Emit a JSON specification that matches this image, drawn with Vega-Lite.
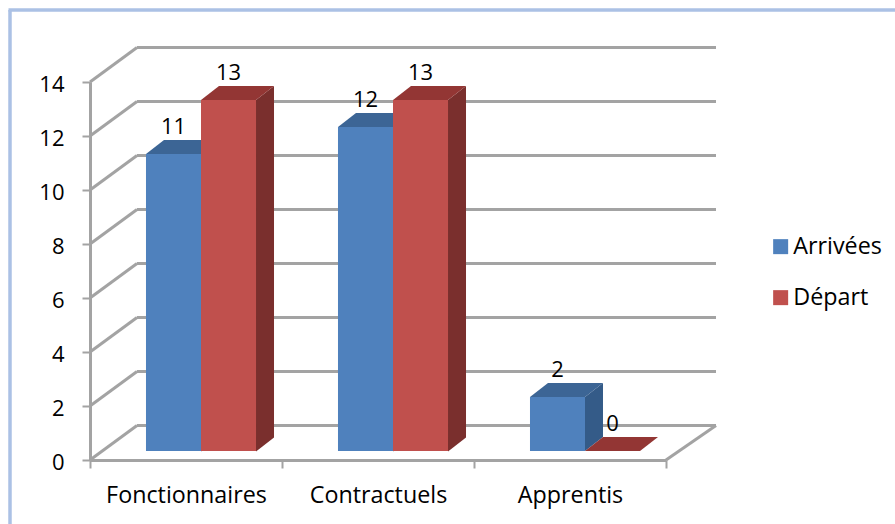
{
"$schema":"https://vega.github.io/schema/vega-lite/v6.json",
"width":576,"height":378,"autosize":"none",
"padding":{"left":90,"top":82,"right":229,"bottom":64},
"background":"white",
"config":{"view":{"stroke":null},"font":"Open Sans","axis":{"grid":false},
 "axisY":{"domainColor":"#a3a3a3","domainWidth":3,"tickColor":"#a3a3a3","tickWidth":2,"tickSize":8,"labelFontSize":22,"labelColor":"#000","labelPadding":18,"labelOffset":2.5,"title":null}},
"datasets":{
"bars":[
{"cat":"Fonctionnaires","series":"Arrivées","value":11},
{"cat":"Fonctionnaires","series":"Départ","value":13},
{"cat":"Contractuels","series":"Arrivées","value":12},
{"cat":"Contractuels","series":"Départ","value":13},
{"cat":"Apprentis","series":"Arrivées","value":2},
{"cat":"Apprentis","series":"Départ","value":0}],
"grid":[{"v":0,"a":0,"b":3},{"v":2,"a":0,"b":3},{"v":4,"a":0,"b":3},{"v":6,"a":0,"b":3},{"v":8,"a":0,"b":3},{"v":10,"a":0,"b":3},{"v":12,"a":0,"b":3},{"v":14,"a":0,"b":3}],
"corner":[{"v":0,"b":3}]
},
"layer":[
{"data":{"name":"grid"},"mark":{"type":"rule","stroke":"#a3a3a3","strokeWidth":3,"xOffset":47,"x2Offset":50,"yOffset":-34.5},
 "encoding":{"x":{"field":"a","type":"quantitative","scale":{"domain":[0,3]},"axis":null},"x2":{"field":"b"},"y":{"field":"v","type":"quantitative","title":null,"scale":{"domain":[0,14],"nice":false},"axis":{"values":[0,2,4,6,8,10,12,14]}}}},
{"data":{"name":"grid"},"mark":{"type":"point","shape":"M0 0L47 -34.5","size":4,"filled":false,"stroke":"#a3a3a3","strokeWidth":3,"opacity":1},
 "encoding":{"x":{"field":"a","type":"quantitative","scale":{"domain":[0,3]},"axis":null},"y":{"field":"v","type":"quantitative","title":null,"axis":{"values":[0,2,4,6,8,10,12,14]}}}},
{"data":{"name":"corner"},"mark":{"type":"point","shape":"M0 0L50 -34.5","size":4,"filled":false,"stroke":"#a3a3a3","strokeWidth":3,"opacity":1},
 "encoding":{"x":{"field":"b","type":"quantitative","scale":{"domain":[0,3]},"axis":null},"y":{"field":"v","type":"quantitative","title":null,"axis":{"values":[0,2,4,6,8,10,12,14]}}}},
{"data":{"name":"bars"},"mark":{"type":"point","filled":true,"opacity":1,"size":4,"yOffset":-9},
 "encoding":{
  "x":{"field":"cat","type":"nominal","sort":null,"scale":{"paddingInner":0,"paddingOuter":0},"axis":null},
  "xOffset":{"field":"series","type":"nominal","scale":{"paddingInner":0,"paddingOuter":0.745,"align":0.683}},
  "y":{"field":"value","type":"quantitative","title":null,"axis":{"values":[0,2,4,6,8,10,12,14]}},
  "shape":{"field":"value","type":"nominal","legend":null,"scale":{"domain":[0,2,11,12,13],"range":[
   "M27.5 0L45.5 -14Z",
   "M27.5 0L45.5 -14L45.5 40L27.5 54Z",
   "M27.5 0L45.5 -14L45.5 283.4L27.5 297.4Z",
   "M27.5 0L45.5 -14L45.5 310.5L27.5 324.5Z",
   "M27.5 0L45.5 -14L45.5 337.5L27.5 351.5Z"]}},
  "color":{"field":"series","type":"nominal","legend":null,"scale":{"domain":["Arrivées","Départ"],"range":["#345b88","#7a2f2d"]}}}},
{"data":{"name":"bars"},"mark":{"type":"point","filled":true,"opacity":1,"size":4,"yOffset":-9,"shape":"M-27.5 0L-9.5 -14L45.5 -14L27.5 0Z"},
 "encoding":{
  "x":{"field":"cat","type":"nominal","sort":null,"scale":{"paddingInner":0,"paddingOuter":0},"axis":null},
  "xOffset":{"field":"series","type":"nominal","scale":{"paddingInner":0,"paddingOuter":0.745,"align":0.683}},
  "y":{"field":"value","type":"quantitative","title":null,"axis":{"values":[0,2,4,6,8,10,12,14]}},
  "color":{"field":"series","type":"nominal","legend":null,"scale":{"domain":["Arrivées","Départ"],"range":["#3c6595","#933634"]}}}},
{"data":{"name":"bars"},"mark":{"type":"bar","yOffset":-9,"y2Offset":-9},
 "encoding":{
  "x":{"field":"cat","type":"nominal","sort":null,"title":null,"scale":{"paddingInner":0,"paddingOuter":0},"axis":{"domainColor":"#a3a3a3","domainWidth":3,"tickColor":"#a3a3a3","tickWidth":2,"tickSize":8,"labelFontSize":23.3,"labelColor":"#000","labelAngle":0,"labelPadding":16,"tickBand":"extent"}},
  "xOffset":{"field":"series","type":"nominal","scale":{"paddingInner":0,"paddingOuter":0.745,"align":0.683}},
  "y":{"field":"value","type":"quantitative","title":null,"axis":{"values":[0,2,4,6,8,10,12,14]}},
  "color":{"field":"series","type":"nominal","title":null,"scale":{"domain":["Arrivées","Départ"],"range":["#4f81bd","#c0504d"]},
   "legend":{"orient":"none","legendX":679,"legendY":153,"symbolType":"square","symbolSize":225,"symbolStrokeWidth":0,"labelFontSize":23.3,"labelColor":"#000","rowPadding":27,"labelOffset":1,"symbolOpacity":1}}}},
{"data":{"name":"bars"},"mark":{"type":"text","fontSize":22,"color":"#000","baseline":"alphabetic","yOffset":-29},
 "encoding":{
  "x":{"field":"cat","type":"nominal","sort":null,"scale":{"paddingInner":0,"paddingOuter":0},"axis":null},
  "xOffset":{"field":"series","type":"nominal","scale":{"paddingInner":0,"paddingOuter":0.745,"align":0.683}},
  "y":{"field":"value","type":"quantitative","title":null,"axis":{"values":[0,2,4,6,8,10,12,14]}},
  "text":{"field":"value","type":"quantitative"}}},
{"data":{"values":[{"k":"cadre"}]},"mark":{"type":"rule","stroke":"#abc1e5","strokeWidth":3.5},
 "encoding":{"x":{"value":-80},"y":{"value":-72},"y2":{"value":442}}},
{"data":{"values":[{"k":"cadre"}]},"mark":{"type":"rule","stroke":"#abc1e5","strokeWidth":3.5},
 "encoding":{"y":{"value":-72},"x":{"value":-81.5},"x2":{"value":805}}}
],
"resolve":{"scale":{"x":"independent","color":"independent","shape":"independent"}}
}
